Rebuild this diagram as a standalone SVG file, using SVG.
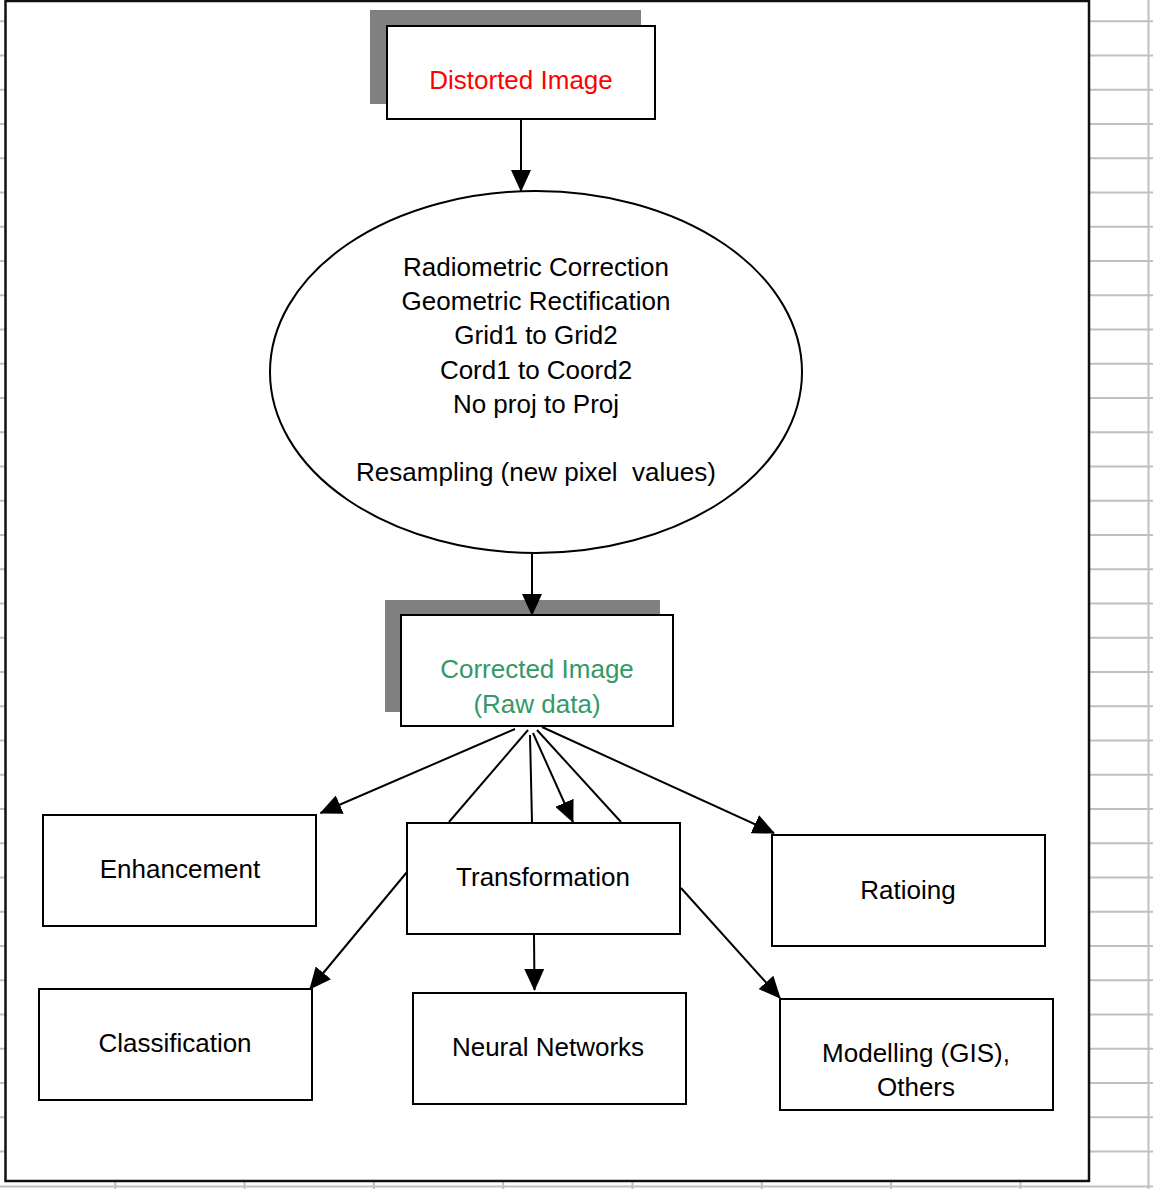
<svg xmlns="http://www.w3.org/2000/svg" width="1153" height="1189" viewBox="0 0 1153 1189">
<defs>
<style>
.grid{stroke:#c0c0c0;stroke-width:2;fill:none}
.box{fill:#fff;stroke:#000;stroke-width:2}
.shadow{fill:#808080;stroke:none}
.t{font-family:"Liberation Sans",Arial,sans-serif;font-size:26px;fill:#000;text-anchor:middle}
.red{fill:#ff0000}
.green{fill:#339966}
.c{stroke:#000;stroke-width:2;fill:none}
.a{marker-end:url(#arrow)}
</style>
<marker id="arrow" markerUnits="userSpaceOnUse" markerWidth="22" markerHeight="20" viewBox="0 0 22 20" refX="21" refY="10" orient="auto">
<path d="M0,0 L22,10 L0,20 z" fill="#000"/>
</marker>
</defs>
<rect width="1153" height="1189" fill="#fff"/>
<g id="grid" class="grid">
<path d="M0,21.3H1153M0,55.5H1153M0,89.8H1153M0,124H1153M0,158.3H1153M0,192.5H1153M0,226.8H1153M0,261H1153M0,295.3H1153M0,329.5H1153M0,363.8H1153M0,398H1153M0,432.3H1153M0,466.5H1153M0,500.8H1153M0,535H1153M0,569.3H1153M0,603.5H1153M0,637.8H1153M0,672H1153M0,706.3H1153M0,740.5H1153M0,774.8H1153M0,809H1153M0,843.3H1153M0,877.5H1153M0,911.8H1153M0,946H1153M0,980.3H1153M0,1014.5H1153M0,1048.8H1153M0,1083H1153M0,1117.3H1153M0,1151.5H1153M0,1186.5H1153"/>
<path d="M115.3,0V1189M244.6,0V1189M373.9,0V1189M503.2,0V1189M632.5,0V1189M761.8,0V1189M891.1,0V1189M1020.4,0V1189M1148.5,0V1189"/>
</g>
<rect id="frame" x="5.5" y="1" width="1083.5" height="1180" fill="#fff" stroke="#111" stroke-width="2.5"/>
<g id="distorted">
<rect class="shadow" x="370" y="10" width="271" height="94"/>
<rect class="box" x="387" y="26" width="268" height="93"/>
<text class="t red" x="521" y="89">Distorted Image</text>
</g>
<g id="correction">
<ellipse cx="536" cy="372" rx="266" ry="181" fill="#fff" stroke="#000" stroke-width="2"/>
<text class="t" x="536" y="276">Radiometric Correction</text>
<text class="t" x="536" y="310">Geometric Rectification</text>
<text class="t" x="536" y="344">Grid1 to Grid2</text>
<text class="t" x="536" y="378.5">Cord1 to Coord2</text>
<text class="t" x="536" y="413">No proj to Proj</text>
<text class="t" x="536" y="480.5" xml:space="preserve">Resampling (new pixel  values)</text>
</g>
<g id="corrected">
<rect class="shadow" x="385" y="600" width="275" height="112"/>
<rect class="box" x="401" y="615" width="272" height="111"/>
<text class="t green" x="537" y="678">Corrected Image</text>
<text class="t green" x="537" y="713">(Raw data)</text>
</g>
<g id="enhancement">
<rect class="box" x="43" y="815" width="273" height="111"/>
<text class="t" x="180" y="878">Enhancement</text>
</g>
<g id="transformation">
<rect class="box" x="407" y="823" width="273" height="111"/>
<text class="t" x="543" y="886">Transformation</text>
</g>
<g id="ratioing">
<rect class="box" x="772" y="835" width="273" height="111"/>
<text class="t" x="908" y="899">Ratioing</text>
</g>
<g id="classification">
<rect class="box" x="39" y="989" width="273" height="111"/>
<text class="t" x="175" y="1052">Classification</text>
</g>
<g id="neural">
<rect class="box" x="413" y="993" width="273" height="111"/>
<text class="t" x="548" y="1056">Neural Networks</text>
</g>
<g id="modelling">
<rect class="box" x="780" y="999" width="273" height="111"/>
<text class="t" x="916" y="1062">Modelling (GIS),</text>
<text class="t" x="916" y="1096">Others</text>
</g>
<g id="connectors">
<line class="c a" x1="521" y1="120" x2="521" y2="191"/>
<line class="c a" x1="532" y1="554" x2="532" y2="615"/>
<line class="c a" x1="515" y1="729" x2="320.5" y2="813"/>
<line class="c" x1="528" y1="730" x2="449" y2="822"/>
<line class="c" x1="530" y1="735" x2="532" y2="822"/>
<line class="c a" x1="533" y1="733" x2="573" y2="822"/>
<line class="c" x1="537" y1="730" x2="621" y2="822"/>
<line class="c a" x1="542" y1="727" x2="774" y2="833"/>
<line class="c a" x1="407" y1="872" x2="310" y2="989"/>
<line class="c a" x1="534" y1="935" x2="534.5" y2="990"/>
<line class="c a" x1="681" y1="888" x2="780" y2="998"/>
</g>
</svg>
